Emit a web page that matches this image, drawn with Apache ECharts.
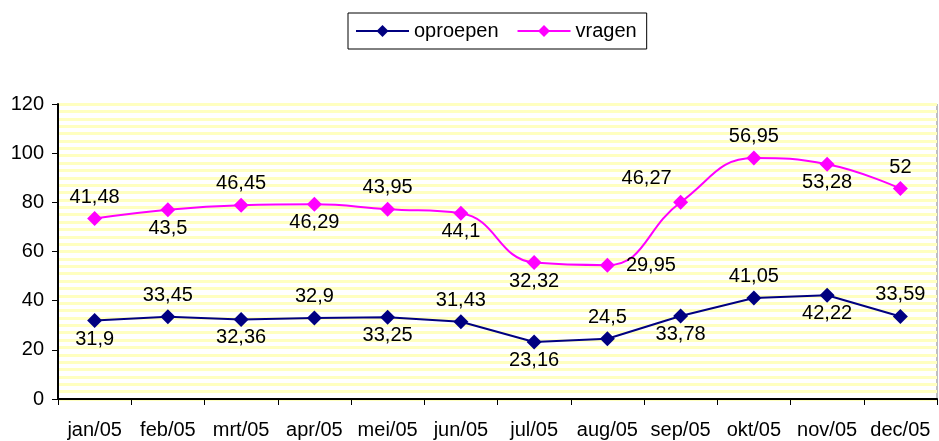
<!DOCTYPE html>
<html>
<head>
<meta charset="utf-8">
<script src="https://cdn.jsdelivr.net/npm/echarts@6/dist/echarts.min.js"></script>
<style>
    html, body { margin: 0; padding: 0; background: #fff; }
    #chart { width: 939px; height: 441px; }
</style>
</head>
<body>
<div id="chart"></div>
<script>
    var months = ['jan/05', 'feb/05', 'mrt/05', 'apr/05', 'mei/05', 'jun/05',
        'jul/05', 'aug/05', 'sep/05', 'okt/05', 'nov/05', 'dec/05']
    var oproepen = [31.9, 33.45, 32.36, 32.9, 33.25, 31.43, 23.16, 24.5, 33.78, 41.05, 42.22, 33.59]
    var vragen = [41.48, 43.5, 46.45, 46.29, 43.95, 44.1, 32.32, 29.95, 46.27, 56.95, 53.28, 52]

    // where each data label sits (Excel put them by hand)
    var oproepenPos = ['bottom', 'top', 'bottom', 'top', 'bottom', 'top', 'bottom', 'top', 'bottom', 'top', 'bottom', 'top']
    var vragenPos = ['top', 'bottom', 'top', 'bottom', 'top', 'bottom', 'bottom', 'right', 'top', 'top', 'bottom', 'top']

    function fmt(v) { return String(v).replace('.', ',') }

    function withLabels(values, pos) {
        var out = []
        for (var i = 0; i < values.length; i++) {
            var d = 4
            if (pos[i] == 'bottom') d = 1
            if (pos[i] == 'right') d = 11
            var lbl = { position: pos[i], distance: d }
            if (i == 8 && pos === vragenPos) lbl.offset = [-34, -2]
            out.push({ value: values[i], label: lbl })
        }
        return out
    }

    var font = 'Arial, "Liberation Sans", sans-serif'
    var myChart = echarts.init(document.getElementById('chart'))
    var option = {
        animation: false,
        textStyle: { fontFamily: font, color: '#000' },
        legend: {
            left: 348,
            top: 13,
            padding: [8, 10, 8, 7],
            itemWidth: 53,
            itemHeight: 15,
            itemGap: 18,
            borderColor: '#000',
            borderWidth: 1,
            textStyle: { fontSize: 20, color: '#000', fontFamily: font },
            data: ['oproepen', 'vragen']
        },
        grid: {
            left: 58, right: 2, top: 104, bottom: 42,
            show: true,
            borderColor: '#808080',
            borderWidth: 1,
            backgroundColor: '#fff'
        },
        xAxis: {
            type: 'category',
            data: months,
            boundaryGap: true,
            axisLine: { lineStyle: { color: '#000', width: 2 } },
            axisTick: { show: true, length: 6, lineStyle: { color: '#000' } },
            axisLabel: { interval: 0, fontSize: 20, color: '#000', margin: 21, fontFamily: font }
        },
        yAxis: [{
            type: 'value',
            min: 0, max: 120, interval: 20,
            axisLine: { show: true, lineStyle: { color: '#000', width: 2 } },
            axisTick: { show: true, length: 6, lineStyle: { color: '#000' } },
            axisLabel: { fontSize: 20, color: '#000', margin: 14, fontFamily: font },
            splitLine: { show: false }
        }, {
            // pale yellow stripes of the plot area
            type: 'value',
            min: 0, max: 120, interval: 3,
            position: 'left',
            axisLine: { show: false },
            axisTick: { show: false },
            axisLabel: { show: false },
            splitLine: { show: true, lineStyle: { color: '#ffffc0', width: 3 } }
        }],
        series: [{
            name: 'oproepen',
            type: 'line',
            stack: 'tot',
            data: withLabels(oproepen, oproepenPos),
            symbol: 'diamond',
            symbolSize: 15,
            itemStyle: { color: '#000080' },
            lineStyle: { color: '#000080', width: 2 },
            label: { show: true, fontSize: 20, color: '#000', fontFamily: font, formatter: function (p) { return fmt(p.value) } }
        }, {
            name: 'vragen',
            type: 'line',
            stack: 'tot',
            smooth: 0.45,
            data: withLabels(vragen, vragenPos),
            symbol: 'diamond',
            symbolSize: 15,
            itemStyle: { color: '#ff00ff' },
            lineStyle: { color: '#ff00ff', width: 2 },
            label: { show: true, fontSize: 20, color: '#000', fontFamily: font, formatter: function (p) { return fmt(p.value) } }
        }]
    }
    myChart.setOption(option)
</script>
</body>
</html>
